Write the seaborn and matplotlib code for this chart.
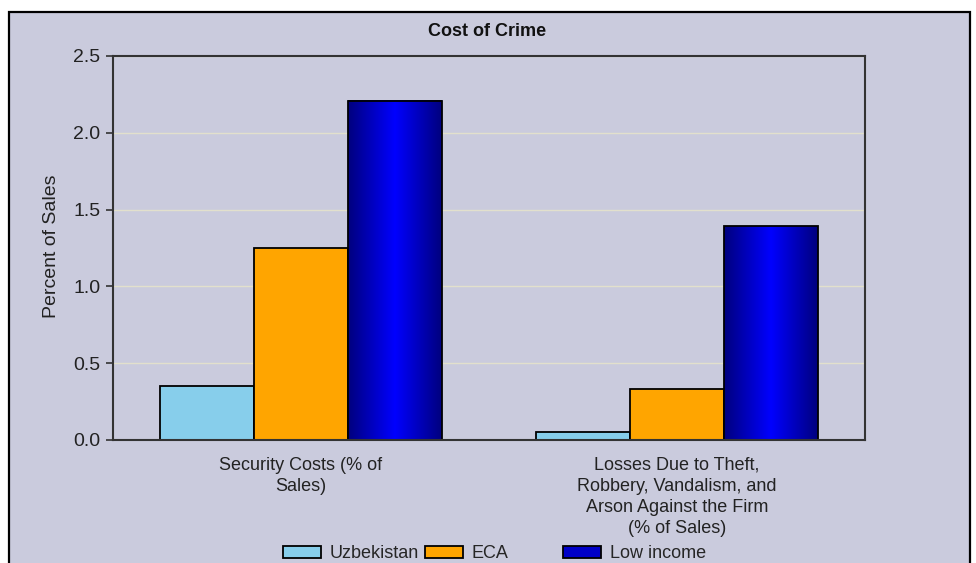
import numpy as np
import pandas as pd
import matplotlib
matplotlib.use('Agg')
import matplotlib.pyplot as plt
import seaborn as sns
from matplotlib.colors import LinearSegmentedColormap
from matplotlib.patches import Rectangle

# data
categories = ['Security Costs (% of\nSales)',
              'Losses Due to Theft,\nRobbery, Vandalism, and\nArson Against the Firm\n(% of Sales)']
groups = ['Uzbekistan', 'ECA', 'Low income']
uzbekistan = [0.35, 0.05]
eca = [1.25, 0.33]
low_income = [2.21, 1.39]
yticks = [0.0, 0.5, 1.0, 1.5, 2.0, 2.5]

df = pd.DataFrame({
    'category': categories * 3,
    'group': [g for g in groups for _ in categories],
    'value': uzbekistan + eca + low_income,
})

bg = '#CACBDD'
palette = {'Uzbekistan': '#87CEEB', 'ECA': '#FFA500', 'Low income': '#0000C8'}

sns.set_theme(style='white')
plt.rcParams['font.family'] = ['Liberation Sans', 'DejaVu Sans']
fs = 13

fig = plt.figure(figsize=(9.76, 5.63), dpi=100)
fig.patch.set_facecolor('white')

# outer frame of the panel (runs off the bottom)
top = 1 - 12 / 563
fig.patches.append(Rectangle((9 / 976, -0.1), (970 - 9) / 976, top + 0.1,
                             transform=fig.transFigure, facecolor=bg,
                             edgecolor='black', linewidth=1.6, zorder=-1))

ax = fig.add_axes([113 / 976, 1 - 440 / 563, (865 - 113) / 976, (440 - 56) / 563])
ax.set_facecolor(bg)
ax.set_axisbelow(True)

sns.barplot(data=df, x='category', y='value', hue='group', palette=palette,
            width=0.75, saturation=1, errorbar=None, edgecolor='black',
            linewidth=1.3, ax=ax)

# gradient fill on the low income bars
cmap = LinearSegmentedColormap.from_list('blu', ['#00007E', '#0000FF', '#00007E'])
grad = np.linspace(0, 1, 256).reshape(1, -1)
for bar in ax.containers[2]:
    x0, y0 = bar.get_xy()
    w, h = bar.get_width(), bar.get_height()
    ax.imshow(grad, extent=[x0, x0 + w, y0, y0 + h], aspect='auto',
              cmap=cmap, zorder=1.5, interpolation='bilinear')
    bar.set_facecolor('none')
    bar.set_zorder(2)

ax.set_xlim(-0.5, 1.5)
ax.set_ylim(0, 2.5)
ax.set_yticks(yticks)
ax.set_yticklabels([f'{t:.1f}' for t in yticks])
ax.yaxis.grid(True, color='#E2E0CC', linewidth=1)
ax.xaxis.grid(False)

for s in ax.spines.values():
    s.set_visible(True)
    s.set_color('#333333')
    s.set_linewidth(1.5)

ax.tick_params(axis='y', left=True, length=5, width=1.2, color='#333333',
               labelsize=fs + 1, pad=4, labelcolor='#222222')
ax.tick_params(axis='x', bottom=False, labelsize=fs, pad=6, labelcolor='#222222')
for lab in ax.get_xticklabels():
    lab.set_linespacing(1.32)

ax.set_xlabel('')
ax.set_ylabel('')
fig.text(51 / 976, 1 - 246 / 563, 'Percent of Sales', rotation=90,
         ha='center', va='center', fontsize=fs + 1, color='#222222')
fig.text(0.4995, 1 - 31 / 563, 'Cost of Crime', ha='center', va='center',
         fontsize=fs, fontweight='bold', color='#111111')

handles, labels = ax.get_legend_handles_labels()
ax.get_legend().remove()
legend_x = [283, 425, 563]
for hnd, lab, xp in zip(handles, labels, legend_x):
    hnd.set_edgecolor('black')
    hnd.set_linewidth(1.3)
    fig.legend([hnd], [lab], loc='center left',
               bbox_to_anchor=(xp / 976, 1 - 554 / 563), frameon=False,
               fontsize=fs, handlelength=2.1, handleheight=0.6,
               handletextpad=0.5, borderpad=0, borderaxespad=0)

fig.savefig('out.png', dpi=100, facecolor='white')
